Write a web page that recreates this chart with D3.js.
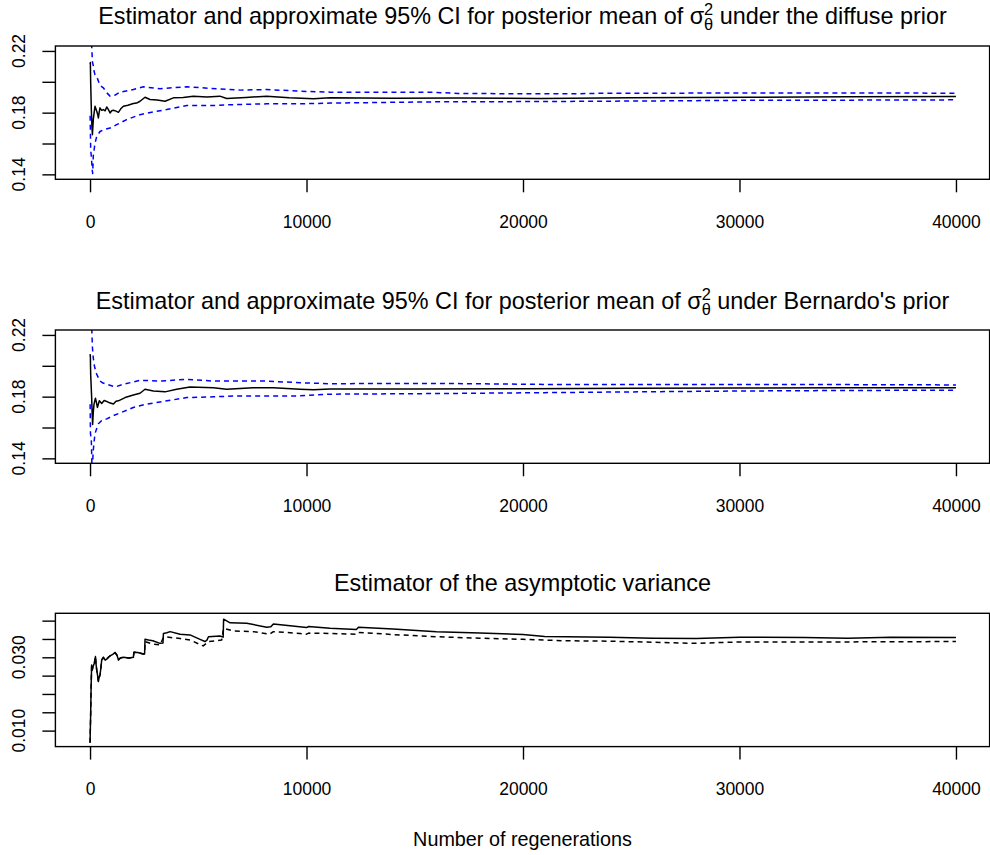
<!DOCTYPE html>
<html>
<head>
<meta charset="utf-8">
<script src="https://cdnjs.cloudflare.com/ajax/libs/d3/7.8.5/d3.min.js"></script>
<style>
  body { margin: 0; background: #fff; }
  svg text { font-family: "Liberation Sans", Arial, Helvetica, sans-serif; fill: #000; }
</style>
</head>
<body>
<div id="chart"></div>
<script>
////// Data (iteration, value)

var xTicks = [0, 10000, 20000, 30000, 40000];
var ciTicks = [0.14, 0.16, 0.18, 0.20, 0.22];
var ciLabels = [0.14, 0.18, 0.22];
var varTicks = [0.010, 0.015, 0.020, 0.025, 0.030, 0.035, 0.040];
var varLabels = [0.010, 0.030];

// panel 1: diffuse prior
var diffuseMean = [[1,0.2113],[15,0.2125],[30,0.1994],[60,0.182],[90,0.170],[110,0.1657],[150,0.1755],[190,0.180],[230,0.1841],[270,0.1825],[310,0.1809],[350,0.179],[385,0.1766],[420,0.180],[460,0.1831],[540,0.1815],[615,0.182],[700,0.1812],[770,0.1837],[850,0.182],[925,0.1798],[1000,0.1812],[1080,0.1815],[1200,0.181],[1310,0.1802],[1420,0.1825],[1540,0.1841],[1750,0.1848],[2000,0.1859],[2150,0.1862],[2310,0.1874],[2540,0.19],[2770,0.1885],[3100,0.1882],[3465,0.1874],[3850,0.1896],[4300,0.1898],[4770,0.1907],[5400,0.1902],[6000,0.1907],[6310,0.1892],[7200,0.1898],[8160,0.1907],[9200,0.1897],[10320,0.189],[11090,0.1896],[14000,0.1893],[17000,0.1895],[20800,0.1892],[25000,0.1897],[30500,0.19],[35000,0.1903],[40000,0.1905]];
var diffuseUpper = [[5,0.26],[40,0.235],[80,0.222],[110,0.213],[150,0.2105],[185,0.207],[230,0.2045],[310,0.2033],[460,0.1976],[615,0.1961],[800,0.1925],[925,0.1907],[1155,0.1913],[1385,0.1933],[2000,0.195],[2460,0.1968],[3230,0.1955],[4465,0.1968],[5850,0.1955],[6930,0.1946],[8160,0.195],[9700,0.1939],[11085,0.1933],[15900,0.1932],[17000,0.1924],[22000,0.1922],[24000,0.1926],[30500,0.1927],[35000,0.1928],[40000,0.1926]];
var diffuseLower = [[5,0.178],[30,0.156],[70,0.150],[100,0.143],[123,0.1405],[150,0.152],[185,0.1555],[230,0.1603],[310,0.1646],[460,0.1678],[615,0.1689],[925,0.170],[1230,0.1722],[1690,0.1755],[2310,0.1787],[3080,0.1809],[3540,0.182],[4465,0.1846],[5700,0.1846],[6620,0.1852],[8160,0.1857],[9700,0.1857],[11085,0.1862],[15900,0.187],[21000,0.1872],[26000,0.1876],[30500,0.188],[35000,0.1881],[40000,0.1883]];

// panel 2: Bernardo's prior
var bernardoMean = [[1,0.2076],[15,0.206],[30,0.1944],[75,0.1794],[100,0.168],[120,0.162],[150,0.170],[185,0.1752],[250,0.179],[300,0.176],[340,0.173],[430,0.1773],[540,0.1756],[650,0.1775],[770,0.1769],[900,0.176],[1080,0.1752],[1200,0.177],[1310,0.1773],[1620,0.1794],[2000,0.1811],[2310,0.1822],[2540,0.1848],[2925,0.1837],[3465,0.1831],[4000,0.1848],[4620,0.1863],[5700,0.1858],[6310,0.1848],[7540,0.1858],[8470,0.1858],[9700,0.1848],[10320,0.1844],[11085,0.185],[15000,0.1849],[20000,0.1852],[25000,0.1855],[30000,0.1856],[35000,0.1857],[40000,0.1858]];
var bernardoUpper = [[5,0.30],[50,0.235],[80,0.224],[110,0.212],[150,0.205],[200,0.2],[280,0.1954],[360,0.193],[460,0.1901],[600,0.1888],[770,0.188],[1155,0.1863],[1540,0.188],[2310,0.1906],[3230,0.1901],[4465,0.1912],[5700,0.1901],[6930,0.1901],[8160,0.1901],[9700,0.189],[11085,0.1884],[16000,0.1886],[22000,0.1878],[30000,0.1879],[35000,0.1878],[40000,0.1876]];
var bernardoLower = [[5,0.175],[20,0.156],[60,0.1517],[100,0.128],[140,0.1434],[180,0.150],[230,0.156],[300,0.159],[385,0.1624],[540,0.1645],[770,0.1656],[1080,0.1677],[1540,0.1703],[2000,0.173],[2620,0.1752],[3390,0.1769],[4465,0.1794],[5700,0.1799],[6930,0.1805],[8160,0.1805],[9700,0.1805],[11085,0.1816],[16000,0.182],[21000,0.1826],[26000,0.1832],[30500,0.1837],[35000,0.184],[40000,0.1842]];

// panel 3: asymptotic variance (solid and dashed estimator)
var asyVarSolid = [[1,0.0067],[10,0.0095],[30,0.0147],[50,0.022],[75,0.0279],[100,0.0265],[120,0.027],[160,0.0278],[200,0.0284],[250,0.0302],[280,0.028],[310,0.0265],[350,0.025],[385,0.0234],[420,0.0245],[460,0.0252],[500,0.027],[540,0.0293],[615,0.030],[700,0.0292],[770,0.0295],[850,0.030],[925,0.0304],[1050,0.0308],[1155,0.0313],[1250,0.0305],[1310,0.0293],[1400,0.0298],[1540,0.030],[1800,0.0298],[2000,0.030],[2030,0.0314],[2200,0.0313],[2460,0.0309],[2520,0.0309],[2540,0.0349],[2700,0.0347],[2900,0.0345],[3230,0.0338],[3370,0.0339],[3390,0.0365],[3550,0.0367],[3700,0.037],[4160,0.0363],[4620,0.0361],[5080,0.0349],[5310,0.0343],[5400,0.0347],[5470,0.0356],[6000,0.0358],[6150,0.0355],[6170,0.0404],[6470,0.0394],[7240,0.0393],[8160,0.0382],[8350,0.0383],[8470,0.0391],[9240,0.0386],[10000,0.0381],[10100,0.0384],[11085,0.0379],[12300,0.0376],[12400,0.0382],[14000,0.0377],[16000,0.037],[18000,0.0366],[20000,0.0362],[21000,0.0357],[24000,0.0355],[26000,0.0352],[28000,0.0351],[30000,0.0355],[33000,0.0354],[35000,0.0352],[37000,0.0355],[40000,0.0354]];
// dashed one sits on the solid one before ~2500 regenerations
var asyVarDashed = asyVarSolid.filter(function(d){ return d[0] < 2540; }).concat([[2540,0.0343],[2900,0.0336],[3230,0.0334],[3390,0.0354],[3465,0.0356],[4160,0.0351],[4620,0.0347],[5230,0.0331],[5470,0.0343],[6080,0.0347],[6170,0.0379],[6620,0.0372],[7540,0.037],[8300,0.0363],[8470,0.037],[9700,0.0365],[10000,0.0363],[10100,0.0366],[11085,0.0365],[12300,0.0363],[12400,0.0368],[14000,0.0362],[16000,0.0356],[18000,0.0352],[20000,0.0349],[22000,0.0345],[24000,0.0344],[26000,0.0341],[28000,0.0338],[30000,0.0342],[35000,0.0342],[40000,0.0343]]);


////// Layout

var W = 990, H = 855;
var boxLeft = 55.4, boxRight = 989.6, boxH = 133.3;
var tickLen = 13;

var svg = d3.select("#chart").append("svg")
    .attr("width", W)
    .attr("height", H);

var x = d3.scaleLinear().domain([-1600, 41600]).range([55.4, 990.6]);


function addTitle(yPos, pre, post) {
  var t = svg.append("text")
      .attr("x", (boxLeft + boxRight) / 2)
      .attr("y", yPos)
      .attr("text-anchor", "middle")
      .style("font-size", "23.4px");
  if (post == null) { t.text(pre); return; }
  t.append("tspan").text(pre + "\u03C3");
  // stacked super/subscript, as R plotmath draws sigma[theta]^2
  var sup = t.append("tspan").attr("dy", -9).style("font-size", "16.4px").text("2");
  var w = sup.node().getComputedTextLength();
  t.append("tspan").attr("dx", -w).attr("dy", 15).style("font-size", "16.4px").text("\u03B8");
  t.append("tspan").attr("dy", -6).text(" " + post);
}


function drawPanel(id, top, yDomain, yTicks, yLabels, fmt, lines) {
  var bottom = top + boxH;
  var y = d3.scaleLinear().domain(yDomain).range([bottom, top]);

  svg.append("clipPath").attr("id", "clip" + id)
    .append("rect")
      .attr("x", boxLeft).attr("y", top)
      .attr("width", boxRight - boxLeft).attr("height", boxH);

  var line = d3.line()
      .x(function(d) { return x(d[0]); })
      .y(function(d) { return y(d[1]); });

  var g = svg.append("g").attr("clip-path", "url(#clip" + id + ")");
  lines.forEach(function(l) {
    g.append("path")
        .datum(l.data)
        .attr("d", line)
        .attr("fill", "none")
        .attr("stroke", l.color)
        .attr("stroke-width", 1.5)
        .attr("stroke-dasharray", l.dash ? "5,4" : null)
        .attr("stroke-linejoin", "round");
  });

  // box
  svg.append("rect")
      .attr("x", boxLeft).attr("y", top)
      .attr("width", boxRight - boxLeft).attr("height", boxH)
      .attr("fill", "none").attr("stroke", "#000").attr("stroke-width", 1.4);

  // x axis
  var xa = svg.append("g").attr("transform", "translate(0," + bottom + ")")
      .call(d3.axisBottom(x).tickValues(xTicks).tickSize(tickLen).tickSizeOuter(0).tickFormat(d3.format("d")));
  xa.select(".domain").remove();
  xa.selectAll("line").attr("stroke", "#000").attr("stroke-width", 1.4);
  xa.selectAll("text").attr("y", 0).attr("dy", 48.3).style("font-size", "17.5px").attr("fill", "#000");

  // y axis, R style: only labels that fit
  var ya = svg.append("g").attr("transform", "translate(" + boxLeft + ",0)")
      .call(d3.axisLeft(y).tickValues(yTicks).tickSize(tickLen).tickSizeOuter(0).tickFormat(""));
  ya.select(".domain").remove();
  ya.selectAll("line").attr("stroke", "#000").attr("stroke-width", 1.4);

  svg.selectAll(null).data(yLabels).enter().append("text")
      .attr("transform", function(d) { return "translate(25.3," + y(d) + ") rotate(-90)"; })
      .attr("text-anchor", "middle")
      .style("font-size", "17.5px")
      .text(fmt);
}


addTitle(24, "Estimator and approximate 95% CI for posterior mean of ", "under the diffuse prior");
drawPanel(1, 46, [0.1368, 0.2232], ciTicks, ciLabels, d3.format(".2f"), [
  {data: diffuseMean, color: "#000"},
  {data: diffuseUpper, color: "#0000ff", dash: true},
  {data: diffuseLower, color: "#0000ff", dash: true}
]);

addTitle(308.5, "Estimator and approximate 95% CI for posterior mean of ", "under Bernardo's prior");
drawPanel(2, 330, [0.1368, 0.2232], ciTicks, ciLabels, d3.format(".2f"), [
  {data: bernardoMean, color: "#000"},
  {data: bernardoUpper, color: "#0000ff", dash: true},
  {data: bernardoLower, color: "#0000ff", dash: true}
]);

addTitle(591, "Estimator of the asymptotic variance");
drawPanel(3, 613.3, [0.00564, 0.0420], varTicks, varLabels, d3.format(".3f"), [
  {data: asyVarSolid, color: "#000"},
  {data: asyVarDashed, color: "#000", dash: true}
]);

svg.append("text")
    .attr("x", (boxLeft + boxRight) / 2)
    .attr("y", 845.5)
    .attr("text-anchor", "middle")
    .style("font-size", "19.8px")
    .text("Number of regenerations");
</script>
</body>
</html>
